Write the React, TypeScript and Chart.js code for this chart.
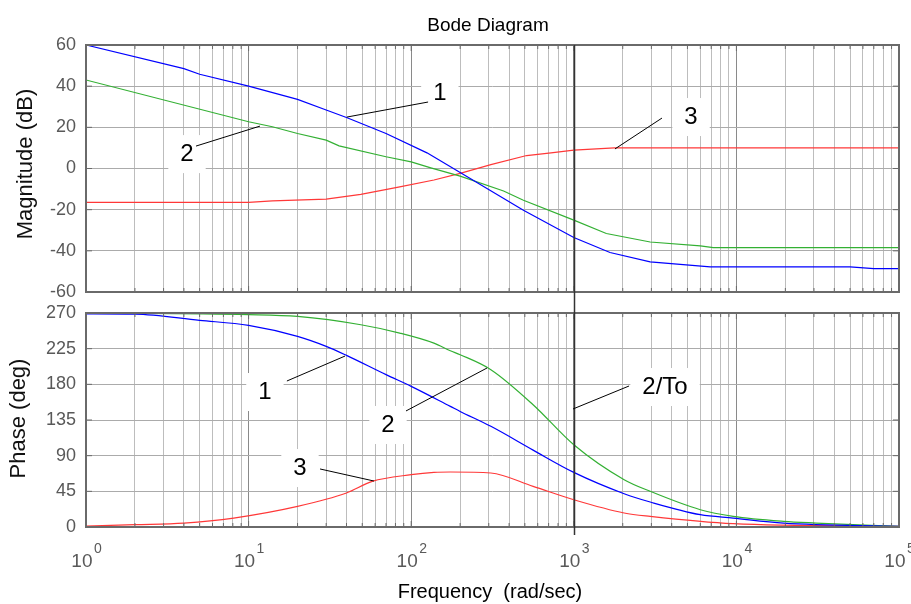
import { useEffect, useRef } from "react";
import { Chart, registerables } from "chart.js";

Chart.register(...registerables);

// ---------- data ----------
const decades = [1, 10, 100, 1000, 10000, 100000];
const decadeExponents = ["0", "1", "2", "3", "4", "5"];
const minorSteps = [1, 2, 3, 4, 5, 6, 7, 8, 9];

// Magnitude (dB)
const mag1Freq = [1, 4, 5, 10, 20, 30, 40, 70, 125, 200, 490, 1000, 1670, 2950, 6900, 50000, 70000, 100000];
const mag1Db = [60, 48.5, 45.8, 40, 33.6, 28.4, 24.8, 17, 7.6, -1.9, -20.3, -33.5, -40.8, -45.4, -47.8, -47.8, -48.6, -48.6];

const mag2Freq = [1, 10, 14, 20, 30, 36, 70, 100, 132, 200, 370, 490, 1000, 1585, 2950, 6000, 7200, 100000];
const mag2Db = [43, 22.7, 20.3, 17, 13.8, 11, 5.7, 3.2, 0.3, -3.7, -10.9, -15.4, -25.1, -31.6, -35.7, -37.6, -38.4, -38.4];

const mag3Freq = [1, 10, 14, 30, 49, 85, 138, 200, 309, 513, 724, 1000, 1778, 100000];
const mag3Db = [-16.5, -16.5, -15.7, -14.9, -12.6, -8.9, -5.6, -2.4, 1.9, 6.3, 7.6, 8.9, 10, 10];

// Phase (deg)
const ph1Freq = [1, 2, 5, 10, 20, 30, 40, 70, 100, 174, 200, 309, 562, 1000, 2040, 2950, 6000, 9550, 19500, 100000];
const ph1Deg = [269, 268.7, 260.7, 254.4, 240.5, 227.9, 216.5, 192.2, 177.4, 152.2, 145.8, 127, 97, 68.9, 42, 31.5, 15.5, 11.3, 5, 0.8];

const ph2Freq = [1, 10, 20, 49, 85, 138, 174, 200, 309, 562, 1000, 2040, 2950, 6000, 9550, 19500, 30900, 100000];
const ph2Deg = [270, 268, 265.7, 255.2, 244.7, 232, 222.4, 217.4, 198.5, 154.3, 103.8, 59.7, 45, 21.8, 13.4, 7.1, 5, 0.8];

const ph3Freq = [1, 2, 4, 8.1, 20, 40, 57.5, 100, 138, 174, 309, 562, 1000, 2040, 2950, 9550, 100000];
const ph3Deg = [1, 2.9, 5, 11.3, 26, 42.9, 57.5, 66, 68.9, 69.4, 68.1, 51.2, 34.4, 17.7, 13.4, 4.2, 0.8];

const markerFreq = 1000; // 2/To

// annotations in data coordinates: label centre, leader line from -> to
const magNotes = [
  { text: "1", at: [150, 36.7], from: [40.3, 25.0], to: [127, 32.3] },
  { text: "2", at: [4.18, 7.0], from: [4.75, 10.9], to: [11.75, 20.6] },
  { text: "3", at: [5260, 25.0], from: [1791, 9.5], to: [3486, 24.5] },
];
const phaseNotes = [
  { text: "1", at: [12.6, 170.3], from: [17.2, 184.2], to: [39.2, 215.7] },
  { text: "2", at: [72, 128.7], from: [92.9, 146.4], to: [292.6, 200.6] },
  { text: "3", at: [20.7, 74.4], from: [27.5, 73.2], to: [59.0, 58.0] },
  { text: "2/To", at: [3640, 176.6], from: [989, 148.9], to: [2187, 177.9] },
];

const chartTitle = "Bode Diagram";
const magTitle = "Magnitude (dB)";
const phaseTitle = "Phase (deg)";
const freqTitle = "Frequency  (rad/sec)";

// ---------- styles ----------
const FONT = '"Liberation Sans", Arial, sans-serif';
const BLUE = "#0000ff";
const GREEN = "#33b033";
const RED = "#ff3838";
const TICK_COLOR = "#595959";
const FRAME = "#6a6a6a";

const xGridValues: number[] = [];
decades.forEach((d, i) => {
  if (i === decades.length - 1) xGridValues.push(d);
  else minorSteps.forEach((m) => xGridValues.push(d * m));
});

function series(freq: number[], vals: number[], color: string, label: string, smooth: boolean) {
  return {
    label,
    data: freq.map((f, i) => ({ x: f, y: vals[i] })),
    borderColor: color,
    backgroundColor: color,
    borderWidth: 1.2,
    pointRadius: 0,
    tension: smooth ? 0.4 : 0,
    cubicInterpolationMode: smooth ? "monotone" : "default",
    fill: false,
  };
}

function xAxis(height: number) {
  return {
    type: "logarithmic" as const,
    min: 1,
    max: 100000,
    afterBuildTicks: (s: any) => {
      s.ticks = xGridValues.map((v) => ({ value: v, major: decades.includes(v) }));
    },
    afterFit: (s: any) => {
      s.height = height;
    },
    ticks: { display: false },
    grid: {
      drawTicks: false,
      lineWidth: 1,
      color: (c: any) => (c.tick && c.tick.major ? "#8a8a8a" : "#bdbdbd"),
    },
    border: { display: false },
  };
}

function yAxis(min: number, max: number, step: number) {
  return {
    min,
    max,
    afterFit: (s: any) => {
      s.width = 86;
      s.paddingTop = 0;
      s.paddingBottom = 0;
    },
    ticks: {
      stepSize: step,
      color: TICK_COLOR,
      padding: 10,
      font: { family: FONT, size: 18, lineHeight: 0.1 },
    },
    grid: { drawTicks: false, color: "#ababab", lineWidth: 1 },
    border: { display: false },
  };
}

function px(chart: any, p: number[]) {
  return [chart.scales.x.getPixelForValue(p[0]), chart.scales.y.getPixelForValue(p[1])];
}

function drawNoteBoxes(chart: any, notes: any[]) {
  const ctx = chart.ctx;
  ctx.save();
  ctx.font = `24px ${FONT}`;
  ctx.fillStyle = "#ffffff";
  notes.forEach((n) => {
    const [x, y] = px(chart, n.at);
    const w = ctx.measureText(n.text).width + 24;
    ctx.fillRect(x - w / 2, y - 19, w, 38);
  });
  ctx.restore();
}

function drawNotes(chart: any, notes: any[]) {
  const ctx = chart.ctx;
  ctx.save();
  ctx.strokeStyle = "#000";
  ctx.lineWidth = 1;
  ctx.fillStyle = "#000";
  ctx.font = `24px ${FONT}`;
  ctx.textAlign = "center";
  ctx.textBaseline = "middle";
  notes.forEach((n) => {
    const [x1, y1] = px(chart, n.from);
    const [x2, y2] = px(chart, n.to);
    ctx.beginPath();
    ctx.moveTo(x1, y1);
    ctx.lineTo(x2, y2);
    ctx.stroke();
    const [tx, ty] = px(chart, n.at);
    ctx.fillText(n.text, tx, ty);
  });
  ctx.restore();
}

function drawFrame(chart: any) {
  const { ctx, chartArea: a, scales } = chart;
  ctx.save();
  ctx.strokeStyle = FRAME;
  ctx.lineWidth = 1;
  ctx.beginPath();
  xGridValues.forEach((v) => {
    const x = scales.x.getPixelForValue(v);
    const len = decades.includes(v) ? 6 : 4;
    ctx.moveTo(x, a.top);
    ctx.lineTo(x, a.top + len);
    ctx.moveTo(x, a.bottom);
    ctx.lineTo(x, a.bottom - len);
  });
  scales.y.ticks.forEach((t: any) => {
    const y = scales.y.getPixelForValue(t.value);
    ctx.moveTo(a.left, y);
    ctx.lineTo(a.left + 6, y);
    ctx.moveTo(a.right, y);
    ctx.lineTo(a.right - 6, y);
  });
  ctx.stroke();
  ctx.lineWidth = 2;
  ctx.strokeRect(a.left, a.top, a.right - a.left, a.bottom - a.top);
  ctx.restore();
}

function drawMarker(chart: any, yFrom: number, yTo: number) {
  const { ctx, scales } = chart;
  const x = Math.round(scales.x.getPixelForValue(markerFreq)) + 0.5;
  ctx.save();
  ctx.strokeStyle = "#333333";
  ctx.lineWidth = 1.5;
  ctx.beginPath();
  ctx.moveTo(x, yFrom);
  ctx.lineTo(x, yTo);
  ctx.stroke();
  ctx.restore();
}

function drawRotated(ctx: any, text: string, x: number, y: number) {
  ctx.save();
  ctx.translate(x, y);
  ctx.rotate(-Math.PI / 2);
  ctx.font = `22px ${FONT}`;
  ctx.fillStyle = "#111";
  ctx.textAlign = "center";
  ctx.textBaseline = "alphabetic";
  ctx.fillText(text, 0, 0);
  ctx.restore();
}

const topPlugin = {
  id: "magDecor",
  beforeDatasetsDraw(chart: any) {
    drawNoteBoxes(chart, magNotes);
  },
  afterDraw(chart: any) {
    const { ctx, chartArea: a } = chart;
    drawFrame(chart);
    drawMarker(chart, a.top, chart.height);
    drawNotes(chart, magNotes);
    ctx.save();
    ctx.font = `19px ${FONT}`;
    ctx.fillStyle = "#000";
    ctx.textAlign = "center";
    ctx.textBaseline = "alphabetic";
    ctx.fillText(chartTitle, 488, 31);
    ctx.restore();
    drawRotated(ctx, magTitle, 31.5, 164);
  },
};

const bottomPlugin = {
  id: "phaseDecor",
  beforeDatasetsDraw(chart: any) {
    drawNoteBoxes(chart, phaseNotes);
  },
  afterDraw(chart: any) {
    const { ctx, chartArea: a, scales } = chart;
    drawFrame(chart);
    drawMarker(chart, 0, a.bottom + 8);
    drawNotes(chart, phaseNotes);
    ctx.save();
    ctx.fillStyle = TICK_COLOR;
    ctx.textBaseline = "alphabetic";
    decades.forEach((d, i) => {
      const x = scales.x.getPixelForValue(d);
      ctx.font = `19px ${FONT}`;
      ctx.textAlign = "right";
      ctx.fillText("10", x + 6.5, a.bottom + 40);
      ctx.font = `14px ${FONT}`;
      ctx.textAlign = "left";
      ctx.fillText(decadeExponents[i], x + 8, a.bottom + 26);
    });
    ctx.fillStyle = "#000";
    ctx.font = `20px ${FONT}`;
    ctx.textAlign = "center";
    ctx.fillText(freqTitle, 490, a.bottom + 71);
    ctx.restore();
    drawRotated(ctx, phaseTitle, 25, a.top + 105.5);
  },
};

export default function App() {
  const topRef = useRef<HTMLCanvasElement>(null);
  const botRef = useRef<HTMLCanvasElement>(null);

  useEffect(() => {
    const common = {
      responsive: false,
      animation: false as const,
      plugins: { legend: { display: false }, tooltip: { enabled: false } },
    };
    const top = new Chart(topRef.current as HTMLCanvasElement, {
      type: "line",
      data: {
        datasets: [
          series(mag1Freq, mag1Db, BLUE, "1", false),
          series(mag2Freq, mag2Db, GREEN, "2", false),
          series(mag3Freq, mag3Db, RED, "3", false),
        ],
      },
      options: {
        ...common,
        layout: { padding: { top: 45, right: 12, left: 0, bottom: 0 } },
        scales: { x: xAxis(8), y: yAxis(-60, 60, 20) },
      } as any,
      plugins: [topPlugin],
    });
    const bottom = new Chart(botRef.current as HTMLCanvasElement, {
      type: "line",
      data: {
        datasets: [
          series(ph1Freq, ph1Deg, BLUE, "1", true),
          series(ph2Freq, ph2Deg, GREEN, "2", true),
          series(ph3Freq, ph3Deg, RED, "3", true),
        ],
      },
      options: {
        ...common,
        layout: { padding: { top: 13, right: 12, left: 0, bottom: 0 } },
        scales: { x: xAxis(77), y: yAxis(0, 270, 45) },
      } as any,
      plugins: [bottomPlugin],
    });
    return () => {
      top.destroy();
      bottom.destroy();
    };
  }, []);

  return (
    <div style={{ position: "absolute", left: 0, top: 0, width: 911, height: 604, background: "#fff", overflow: "hidden" }}>
      <canvas ref={topRef} width={911} height={300} style={{ position: "absolute", left: 0, top: 0 }} />
      <canvas ref={botRef} width={911} height={304} style={{ position: "absolute", left: 0, top: 300 }} />
    </div>
  );
}
